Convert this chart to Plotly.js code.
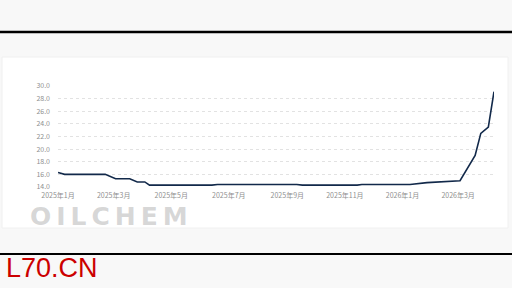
<!DOCTYPE html>
<html>
<head>
<meta charset="utf-8">
<script src="https://cdn.plot.ly/plotly-3.0.1.min.js"></script>
<style>html,body{margin:0;padding:0;background:#f8f8f8;}#chart{width:512px;height:288px;}</style>
</head>
<body>
<div id="chart"></div>
<script>
// Data
const dates = ["2025-01-01","2025-01-08","2025-02-20","2025-03-03","2025-03-18","2025-03-26","2025-04-03","2025-04-08",
  "2025-06-13","2025-06-19","2025-09-11","2025-09-17","2025-11-14","2025-11-19","2026-01-09","2026-01-17","2026-01-27",
  "2026-03-03","2026-03-19","2026-03-25","2026-04-02","2026-04-08"];
const prices = [16.3,16.0,16.0,15.3,15.3,14.8,14.8,14.3,
  14.3,14.4,14.4,14.3,14.3,14.4,14.4,14.5,14.7,
  15.0,19.0,22.5,23.5,29.1];
const tickDates = ["2025-01-01","2025-03-01","2025-05-01","2025-07-01","2025-09-01","2025-11-01","2026-01-01","2026-03-01"];
const tickLabels = ["2025年1月","2025年3月","2025年5月","2025年7月","2025年9月","2025年11月","2026年1月","2026年3月"];
const yTicks = [14,16,18,20,22,24,26,28,30];
const yTickLabels = ["14.0","16.0","18.0","20.0","22.0","24.0","26.0","28.0","30.0"];

// plot-area pixel geometry
const L = 58, R = 494, T = 86, B = 187;
const px = x => (x - L) / (R - L);
const py = y => (B - y) / (B - T);

const trace = {
  x: dates, y: prices, type: 'scatter', mode: 'lines',
  line: {color: '#12294a', width: 1.6},
  hoverinfo: 'skip'
};

const layout = {
  width: 512, height: 288,
  margin: {l: L, r: 512 - R, t: T, b: 288 - B},
  paper_bgcolor: '#f8f8f8',
  plot_bgcolor: 'rgba(0,0,0,0)',
  showlegend: false,
  font: {family: '"Noto Sans CJK SC", "DejaVu Sans", sans-serif', color: '#9a9a9a', size: 7},
  xaxis: {
    type: 'date', range: ['2025-01-01', '2026-04-08'],
    tickvals: tickDates, ticktext: tickLabels,
    showgrid: false, zeroline: false, showline: false,
    tickfont: {size: 7, color: '#8f8f8f'}, ticks: '', ticklabelstandoff: 3
  },
  yaxis: {
    range: [14, 30], tickvals: yTicks, ticktext: yTickLabels,
    showgrid: true, gridcolor: '#e2e2e2', griddash: 'dot', gridwidth: 1,
    zeroline: false, showline: false,
    tickfont: {size: 7, color: '#8f8f8f'}, ticks: '', ticklabelstandoff: 7
  },
  shapes: [
    {type: 'rect', xref: 'paper', yref: 'paper', layer: 'below',
     x0: px(2), x1: px(508), y0: py(57), y1: py(228),
     fillcolor: '#ffffff', line: {color: '#f0f0f0', width: 1}},
    {type: 'line', xref: 'paper', yref: 'paper', x0: px(0), x1: px(512), y0: py(32), y1: py(32),
     line: {color: '#000000', width: 2.5}},
    {type: 'line', xref: 'paper', yref: 'paper', x0: px(0), x1: px(512), y0: py(254), y1: py(254),
     line: {color: '#000000', width: 2}}
  ],
  annotations: [
    {text: '<b>O\u2009I\u2009L\u2009C\u2009H\u2009E\u2009M</b>', xref: 'paper', yref: 'paper', x: px(29), y: py(216), xanchor: 'left', yanchor: 'middle',
     borderpad: 0, showarrow: false, font: {family: '"DejaVu Sans", sans-serif', size: 25, color: 'rgba(165,165,165,0.45)'}},
    {text: 'L70.CN', xref: 'paper', yref: 'paper', x: px(4), y: py(268), xanchor: 'left', yanchor: 'middle',
     showarrow: false, font: {family: '"Liberation Sans", Arial, sans-serif', size: 27, color: '#cc0000'}}
  ]
};

Plotly.newPlot('chart', [trace], layout, {displayModeBar: false, staticPlot: true});
</script>
</body>
</html>
